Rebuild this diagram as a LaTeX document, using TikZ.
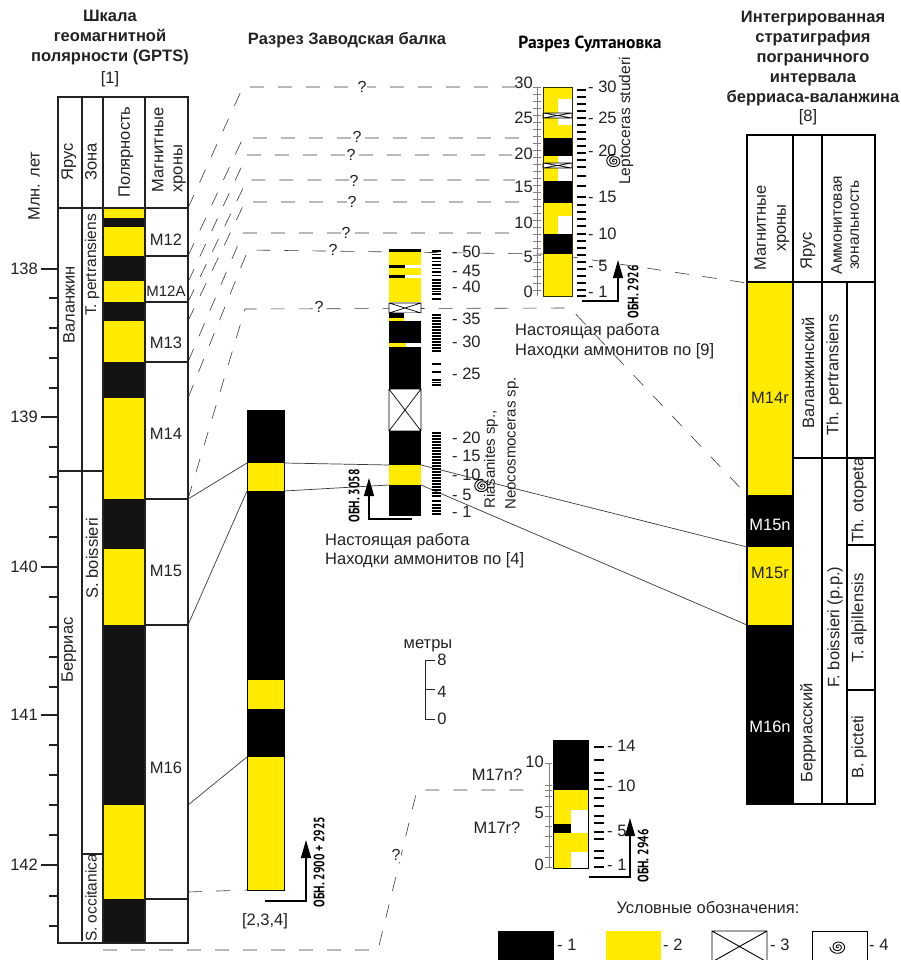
\documentclass[tikz,border=0pt]{standalone}
\usepackage{fontspec}
\setmainfont{Liberation Sans}
\newfontfamily\condf{PT Sans}[FakeStretch=0.76]
\newfontfamily\ptf{PT Sans}
\usetikzlibrary{arrows.meta}
\definecolor{ykw}{HTML}{FFEB00}
\definecolor{ink}{HTML}{222222}
\definecolor{nearblack}{HTML}{131313}
\definecolor{dashc}{HTML}{3A3A3A}
\tikzset{
 lab/.style={inner sep=0pt,text=ink,font=\fontsize{16.5}{19}\selectfont},
 labl/.style={lab,anchor=west},
 labr/.style={lab,anchor=east},
 vlab/.style={lab,rotate=90},
 vsmall/.style={vlab,font=\fontsize{15.5}{18}\selectfont},
 ttl/.style={inner sep=0pt,text=ink,align=center,font=\fontsize{16.5}{20}\selectfont\bfseries},
 obn/.style={inner sep=0pt,rotate=90,text=black,font=\condf\fontsize{15}{17}\selectfont\bfseries},
 dashl/.style={draw=dashc,line width=0.6pt,dash pattern=on 14pt off 14pt},
 solidl/.style={draw=dashc,line width=0.7pt},
 qm/.style={inner sep=1pt,fill=white,text=ink,font=\fontsize{16}{18}\selectfont},
 grid/.style={draw=ink,line width=1.1pt},
 uparrow/.style={draw=black,line width=1.2pt,-{Triangle[length=18pt,width=10pt]}},
 ammon/.pic={\draw[black,line width=0.9pt,domain=0:1000,samples=90,smooth] plot ({\x/125*cos(\x)},{0.85*\x/125*sin(\x)});},
 ammons/.pic={\draw[black,line width=0.9pt,domain=0:900,samples=80,smooth] plot ({\x/110*cos(\x)},{0.85*\x/110*sin(\x)});},
}
\newcommand{\blk}[5]{\fill[#1] (#2,#3) rectangle (#4,#5);}
\newcommand{\xbx}[4]{\draw[black,fill=white,line width=0.7pt] (#1,#2) rectangle (#3,#4) (#1,#2) -- (#3,#4) (#1,#4) -- (#3,#2);}
\begin{document}
\begin{tikzpicture}[x=1pt,y=-1pt]
\useasboundingbox (0,0) rectangle (901,960);
\fill[white] (0,0) rectangle (901,960);

% ---------- connector end points
\coordinate (g1) at (188,208); \coordinate (k1) at (243,87);  \coordinate (e1) at (515,87);
\coordinate (g2) at (188,256); \coordinate (k2) at (243,138); \coordinate (e2) at (520,138);
\coordinate (g3) at (188,282); \coordinate (k3) at (247,155); \coordinate (e3) at (512,155);
\coordinate (g4) at (188,302); \coordinate (k4) at (247,180); \coordinate (e4) at (515,180);
\coordinate (g5) at (188,321); \coordinate (k5) at (245,202); \coordinate (e5) at (522,202);
\coordinate (g6) at (188,362); \coordinate (k6) at (243,233); \coordinate (e6) at (510,233);
\coordinate (g7) at (188,398); \coordinate (k7) at (248,250); \coordinate (e7a) at (543,254); \coordinate (e7b) at (572,257); \coordinate (e7c) at (747,283);
\coordinate (g8) at (188,499); \coordinate (k8) at (245,309); \coordinate (e8a) at (570,308); \coordinate (e8b) at (747,495);
\coordinate (s1) at (188,499); \coordinate (z1) at (247,463);
\coordinate (s2) at (188,625); \coordinate (z2) at (247,491);
\coordinate (s3) at (188,805); \coordinate (z3) at (247,757);
\coordinate (s4) at (188,892); \coordinate (z4) at (247,890);
\coordinate (zr1) at (284,463); \coordinate (a1) at (389,465); \coordinate (a1r) at (421,465); \coordinate (r1) at (747,547);
\coordinate (zr2) at (284,491); \coordinate (a2) at (389,485); \coordinate (a2r) at (421,485); \coordinate (r2) at (747,625);
\coordinate (b1) at (103,950); \coordinate (b2) at (378,950); \coordinate (b3) at (417,790); \coordinate (b4) at (535,790);

% ---------- connectors
\draw[dashl] (g1) -- (k1) -- (e1);
\draw[dashl] (g2) -- (k2) -- (e2);
\draw[dashl] (g3) -- (k3) -- (e3);
\draw[dashl] (g4) -- (k4) -- (e4);
\draw[dashl] (g5) -- (k5) -- (e5);
\draw[dashl] (g6) -- (k6) -- (e6);
\draw[dashl] (g7) -- (k7) -- (e7a) -- (e7b) -- (e7c);
\draw[dashl] (g8) -- (k8) -- (e8a) -- (e8b);
\draw[dashl] (s4) -- (z4);
\draw[dashl] (b1) -- (b2) -- (b3) -- (b4);
\draw[solidl] (s1) -- (z1);
\draw[solidl] (s2) -- (z2);
\draw[solidl] (s3) -- (z3);
\draw[solidl] (zr1) -- (a1) (a1r) -- (r1);
\draw[solidl] (zr2) -- (a2) (a2r) -- (r2);
\node[qm] (q1) at (362,87) {?};
\node[qm] (q2) at (357,137) {?};
\node[qm] (q3) at (351,155) {?};
\node[qm] (q4) at (354,181) {?};
\node[qm] (q5) at (352,202) {?};
\node[qm] (q6) at (346,233) {?};
\node[qm] (q7) at (333,250) {?};
\node[qm] (q8) at (319,307) {?};
\node[qm] (q9) at (396,855) {?};

% ---------- titles
\node[ttl] (t1) at (110,38) {Шкала\\геомагнитной\\полярности (GPTS)};
\node[lab] (t1b) at (110,79) {[1]};
\node[ttl] (t2) at (347,40) {Разрез Заводская балка};
\node[inner sep=0pt,text=black,font=\ptf\fontsize{17.5}{19}\selectfont\bfseries] (t3) at (590,44) {Разрез Султановка};
\node[ttl] (t4) at (813,59) {Интегрированная\\стратиграфия\\пограничного\\интервала\\берриаса-валанжина};
\node[lab] (t4b) at (808,117) {[8]};

% ---------- GPTS column
\blk{ykw}{103}{208}{145}{218}
\blk{nearblack}{103}{218}{145}{227}
\blk{ykw}{103}{227}{145}{256}
\blk{nearblack}{103}{256}{145}{281}
\blk{ykw}{103}{281}{145}{302}
\blk{nearblack}{103}{302}{145}{321}
\blk{ykw}{103}{321}{145}{362}
\blk{nearblack}{103}{362}{145}{398}
\blk{ykw}{103}{398}{145}{499}
\blk{nearblack}{103}{499}{145}{549}
\blk{ykw}{103}{549}{145}{625}
\blk{nearblack}{103}{625}{145}{805}
\blk{ykw}{103}{805}{145}{899}
\blk{nearblack}{103}{899}{145}{943}
\draw[grid] (58,97) rectangle (188,943);
\draw[grid] (58,208) -- (188,208);
\draw[grid] (82,97) -- (82,941) (103,97) -- (103,943) (145,97) -- (145,943);
\draw[grid] (58,471) -- (103,471) (82,854) -- (103,854);
\draw[grid] (145,256) -- (188,256) (145,302) -- (188,302) (145,362) -- (188,362)
            (145,499) -- (188,499) (145,625) -- (188,625) (145,899) -- (188,899);
% age ticks
\foreach \y in {298,328,358,388,447,477,507,537,597,627,657,687,745,775,805,835,896,926}
  \draw[grid] (49,\y) -- (58,\y);
\foreach \y/\t in {269/138,417/139,567/140,715/141,865/142}{
  \draw[grid] (41,\y) -- (58,\y);
  \node[labr] (age\t) at (38,\y) {\t};
}
\node[vlab] (mln) at (34,186) {Млн. лет};
\node[vlab] (h1) at (69,162) {Ярус};
\node[vlab] (h2) at (91,162) {Зона};
\node[vlab] (h3) at (126,152) {Полярность};
\node[vlab,align=left] (h4) at (169,150) {Магнитные\\\hspace*{0pt}хроны};
\node[vlab] (st1) at (69,305) {Валанжин};
\node[vlab] (st2) at (69,650) {Берриас};
\node[vsmall] (zn1) at (92,265) {T. pertransiens};
\node[vlab] (zn2) at (92,558) {S. boissieri};
\node[vsmall] (zn3) at (91,898) {S. occitanica};
\node[lab] (c1) at (166,240) {M12};
\node[lab,font=\fontsize{15}{17}\selectfont] (c2) at (166,291) {M12A};
\node[lab] (c3) at (166,343) {M13};
\node[lab] (c4) at (166,434) {M14};
\node[lab] (c5) at (166,571) {M15};
\node[lab] (c6) at (166,768) {M16};

% ---------- Zavodskaya long column
\blk{black}{247}{410}{284}{463}
\blk{ykw}{247}{463}{284}{491}
\blk{black}{247}{491}{284}{680}
\blk{ykw}{247}{680}{284}{709}
\blk{black}{247}{709}{284}{757}
\blk{ykw}{247}{757}{284}{890}
\draw[black,line width=0.6pt] (247,410) rectangle (284,890);
\coordinate (ar1a) at (265,901); \coordinate (ar1b) at (306,901); \coordinate (ar1c) at (306,840);
\draw[uparrow] (ar1a) -- (ar1b) -- (ar1c);
\node[obn] (ob1) at (319,862) {ОБН. 2900 + 2925};
\node[lab] (ref1) at (265,921) {[2,3,4]};

% ---------- Zavodskaya section
\blk{black}{389}{249}{421}{252}
\blk{ykw}{389}{252}{421}{302}
\blk{black}{389}{264.5}{405}{267.5}
\blk{white}{405}{264.5}{421}{267.5}
\blk{black}{389}{274.5}{405}{277.5}
\blk{white}{405}{274.5}{421}{277.5}
\xbx{389}{303}{421}{313}
\blk{black}{389}{313}{404}{318}
\blk{ykw}{389}{318}{404}{321}
\blk{white}{404}{313}{421}{321}
\blk{black}{389}{321}{421}{389}
\blk{ykw}{389}{343}{406}{346.5}
\blk{white}{406}{343}{421}{346.5}
\xbx{389}{389}{421}{431}
\blk{black}{389}{431}{421}{465}
\blk{ykw}{389}{465}{421}{485}
\blk{black}{389}{485}{421}{516}
\foreach \y in {251,254.5,...,276,280,283,286,289,291.5,294,299}
  \draw[black,line width=1.7pt] (432,\y) -- (441,\y);
\foreach \y in {315,318,...,352,364,372,380,382.5,385}
  \draw[black,line width=1.7pt] (432,\y) -- (441,\y);
\foreach \y in {433,436,...,498,501,505,508,511,514}
  \draw[black,line width=1.7pt] (432,\y) -- (441,\y);
\foreach \y/\t in {252/50,271/45,287/40,319/35,342/30,374/25,438/20,456/15,475/10,495/5,512/1}
  \node[labl] (za\t) at (452,\y) {- \t};
\coordinate (ar2a) at (412,519); \coordinate (ar2b) at (369,519); \coordinate (ar2c) at (369,478);
\draw[uparrow] (ar2a) -- (ar2b) -- (ar2c);
\node[obn] (ob2) at (354,496) {ОБН. 3058};
\node[lab,anchor=north west,align=left] (nz) at (325,533) {Настоящая работа\\Находки аммонитов по [4]};
\pic at (482,486) {ammon};
\node[vlab,anchor=west,font=\fontsize{15}{17}\selectfont] (ri) at (491,509) {Riasanites sp.,};
\node[vlab,anchor=west,font=\fontsize{15}{17}\selectfont] (ne) at (512,510) {Neocosmoceras sp.};

% ---------- Sultanovka section
\blk{ykw}{543}{87}{572}{138}
\blk{white}{558}{99}{572}{125}
\xbx{543}{113}{572}{118}
\blk{black}{543}{138}{572}{156}
\blk{ykw}{543}{156}{558}{181}
\blk{white}{558}{156}{572}{181}
\xbx{543}{163}{572}{168}
\blk{black}{543}{181}{572}{203}
\blk{ykw}{543}{203}{572}{234}
\blk{white}{558}{216}{572}{234}
\blk{black}{543}{234}{572}{254}
\blk{ykw}{543}{254}{572}{296}
\draw[black!80!ykw,line width=0.6pt] (543,87) rectangle (572,296);
\draw[gray,line width=0.7pt] (537,87) -- (537,296);
\foreach \y in {87,94,...,296} \draw[gray,line width=0.6pt] (533,\y) -- (541,\y);
\foreach \y/\t in {83/30,118/25,154/20,187/15,223/10,257/5,292/0}
  \node[labr] (sl\t) at (533,\y) {\t};
\foreach \y in {90,97,104,111,118,125,132,139,146,153,160,167,176,186,197,205,212,219,226,234,241,248,255,262,269,276,283,290,296}
  \draw[black,line width=1.3pt] (577,\y) -- (586,\y);
\foreach \y/\t in {87/30,118/25,151/20,197/15,234/10,266/5,292/1}
  \node[labl] (sr\t) at (588,\y) {- \t};
\pic at (614,161) {ammon};
\node[vsmall,anchor=west] (le) at (626,185) {Leptoceras studeri};
\coordinate (ar3a) at (582,301); \coordinate (ar3b) at (618,301); \coordinate (ar3c) at (618,260);
\draw[uparrow] (ar3a) -- (ar3b) -- (ar3c);
\node[obn] (ob3) at (633,292) {ОБН. 2926};
\node[lab,anchor=north west,align=left,font=\fontsize{16.5}{20}\selectfont] (ns) at (515,323) {Настоящая работа\\Находки аммонитов по [9]};

% ---------- integrated table
\blk{ykw}{747}{283}{793}{495}
\blk{black}{747}{495}{793}{547}
\blk{ykw}{747}{547}{793}{625}
\blk{black}{746}{625}{793}{804}
\draw[black,line width=2pt] (747,135) rectangle (875,804);
\draw[grid,black] (793,135) -- (793,804) (822,135) -- (822,804) (847,282) -- (847,804);
\draw[grid,black] (747,282) -- (875,282) (793,458) -- (875,458);
\draw[grid,black] (847,545) -- (875,545) (847,690) -- (875,690);
\node[vlab,align=center,font=\fontsize{16.5}{20}\selectfont] (rh1) at (772,228) {Магнитные\\хроны};
\node[vlab] (rh2) at (808,251) {Ярус};
\node[vlab,align=center,font=\fontsize{15.5}{17}\selectfont] (rh3) at (845,225) {Аммонитовая\\зональность};
\node[lab] (rm1) at (770,398) {M14r};
\node[lab,text=white] (rm2) at (770,525) {M15n};
\node[lab] (rm3) at (770,573) {M15r};
\node[lab,text=white] (rm4) at (770,727) {M16n};
\node[vlab] (rs1) at (808,373) {Валанжинский};
\node[vlab] (rs2) at (808,733) {Берриасский};
\node[vlab] (rz1) at (834,375) {Th. pertransiens};
\node[vlab] (rz2) at (835,627) {F. boissieri (p.p.)};
\node[vlab] (rz3) at (859,500) {Th. otopeta};
\node[vlab] (rz4) at (859,618) {T. alpillensis};
\node[vlab] (rz5) at (859,747) {B. picteti};

% ---------- metres scale
\draw[ink,line width=1pt] (435,660) -- (425,660) -- (425,719) -- (435,719) (425,689) -- (435,689);
\node[lab] (mtr) at (428,646) {метры};
\node[lab] (m8) at (442,660) {8};
\node[lab] (m4) at (442,692) {4};
\node[lab] (m0) at (442,719) {0};

% ---------- M17 section
\blk{black}{553}{740}{588}{790}
\blk{ykw}{553}{790}{588}{868}
\blk{white}{571}{810}{588}{833}
\blk{black}{553}{824}{571}{833}
\blk{white}{571}{852}{588}{868}
\draw[black,line width=0.6pt] (553,740) rectangle (588,868);
\draw[gray,line width=0.7pt] (549,763) -- (549,867);
\foreach \y in {763,785,790,796,806,816,826,836,846,857,867} \draw[gray,line width=0.6pt] (545,\y) -- (552,\y);
\foreach \y/\t in {762/10,813/5,865/0} \node[labr] (ml\t) at (544,\y) {\t};
\foreach \y in {747,760,773,780,789,798,806,816,823,832,839,851,858,867}
  \draw[black,line width=1.6pt] (594,\y) -- (604,\y);
\foreach \y/\t in {746/14,786/10,831/5,865/1} \node[labl] (mr\t) at (607,\y) {- \t};
\node[lab] (m17n) at (497,775) {M17n?};
\node[lab] (m17r) at (497,828) {M17r?};
\coordinate (ar4a) at (589,877); \coordinate (ar4b) at (630,877); \coordinate (ar4c) at (630,818);
\draw[uparrow] (ar4a) -- (ar4b) -- (ar4c);
\node[obn] (ob4) at (643,856) {ОБН. 2946};

% ---------- legend
\node[lab] (lg) at (708,908) {Условные обозначения:};
\blk{black}{498}{931}{554}{960}
\node[labl] (l1) at (557,945) {- 1};
\blk{ykw}{606}{931}{661}{960}
\node[labl] (l2) at (663,945) {- 2};
\draw[black,line width=0.9pt] (712,931) rectangle (767,962) (712,931) -- (767,962) (712,962) -- (767,931);
\node[labl] (l3) at (770,945) {- 3};
\draw[black,line width=0.9pt] (812,931) rectangle (867,962);
\pic at (838,947) {ammons};
\node[labl] (l4) at (869,945) {- 4};
\end{tikzpicture}
\end{document}
